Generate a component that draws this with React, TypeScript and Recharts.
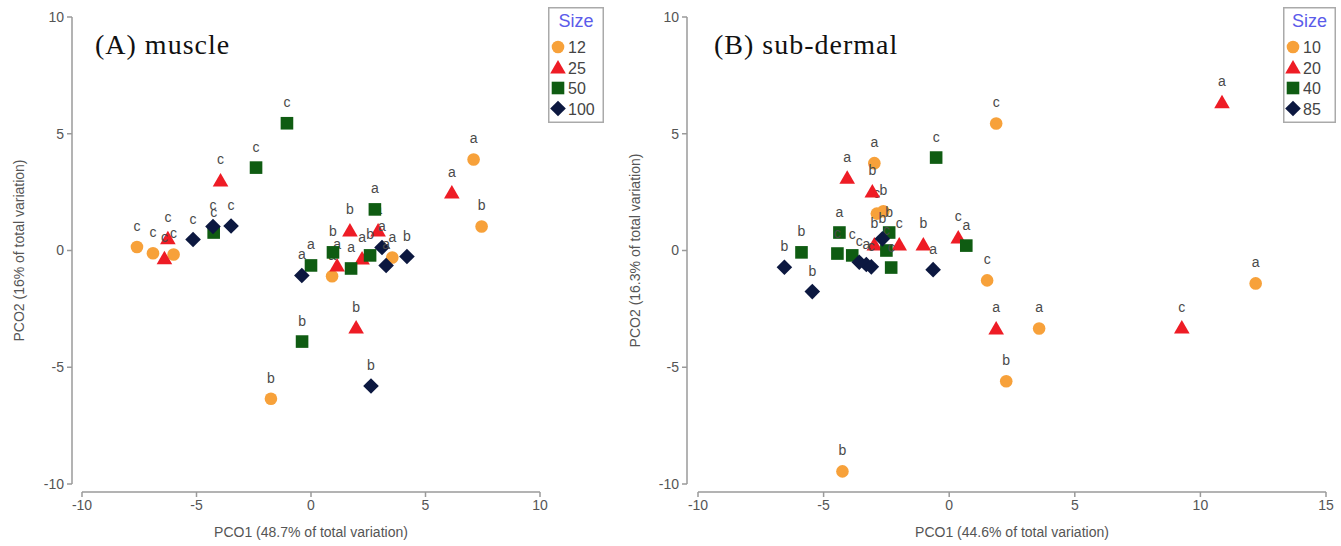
import React from "react";
import { ScatterChart, Scatter, XAxis, YAxis, Label } from "recharts";

type Pt = { x: number; y: number; g: string };

// (A) muscle
const muscle12: Pt[] = [
  { x: -7.6, y: 0.15, g: "c" }, { x: -6.9, y: -0.12, g: "c" }, { x: -6.0, y: -0.17, g: "c" },
  { x: -1.75, y: -6.35, g: "b" }, { x: 0.92, y: -1.1, g: "a" }, { x: 3.55, y: -0.3, g: "a" },
  { x: 7.1, y: 3.9, g: "a" }, { x: 7.45, y: 1.03, g: "b" },
];
const muscle25: Pt[] = [
  { x: -6.25, y: 0.52, g: "c" }, { x: -6.4, y: -0.33, g: "c" }, { x: -3.95, y: 3.0, g: "c" },
  { x: 1.7, y: 0.86, g: "b" }, { x: 2.93, y: 0.86, g: "a" }, { x: 1.14, y: -0.64, g: "a" },
  { x: 2.23, y: -0.34, g: "a" }, { x: 1.97, y: -3.3, g: "b" }, { x: 6.15, y: 2.48, g: "a" },
];
const muscle50: Pt[] = [
  { x: -4.25, y: 0.77, g: "c" }, { x: -2.4, y: 3.55, g: "c" }, { x: -1.05, y: 5.45, g: "c" },
  { x: 0, y: -0.64, g: "a" }, { x: 0.96, y: -0.08, g: "b" }, { x: 2.79, y: 1.76, g: "a" },
  { x: 1.75, y: -0.77, g: "a" }, { x: 2.58, y: -0.21, g: "b" }, { x: -0.39, y: -3.9, g: "b" },
];
const muscle100: Pt[] = [
  { x: -5.15, y: 0.47, g: "c" }, { x: -4.28, y: 1.03, g: "c" }, { x: -3.49, y: 1.05, g: "c" },
  { x: -0.4, y: -1.07, g: "a" }, { x: 3.1, y: 0.13, g: "a" }, { x: 3.28, y: -0.64, g: "a" },
  { x: 4.19, y: -0.26, g: "b" }, { x: 2.62, y: -5.8, g: "b" },
];

// (B) sub-dermal
const dermal10: Pt[] = [
  { x: 1.87, y: 5.44, g: "c" }, { x: -2.98, y: 3.74, g: "a" }, { x: -2.88, y: 1.58, g: "c" },
  { x: -2.62, y: 1.68, g: "b" }, { x: 1.51, y: -1.28, g: "c" }, { x: 3.58, y: -3.34, g: "a" },
  { x: 2.27, y: -5.6, g: "b" }, { x: 12.2, y: -1.41, g: "a" }, { x: -4.25, y: -9.46, g: "b" },
];
const dermal20: Pt[] = [
  { x: 10.86, y: 6.35, g: "a" }, { x: -4.06, y: 3.12, g: "a" }, { x: -3.06, y: 2.53, g: "b" },
  { x: -2.98, y: 0.26, g: "b" }, { x: -1.99, y: 0.26, g: "c" }, { x: -1.03, y: 0.26, g: "b" },
  { x: 0.36, y: 0.56, g: "c" }, { x: 1.87, y: -3.34, g: "a" }, { x: 9.26, y: -3.3, g: "c" },
];
const dermal40: Pt[] = [
  { x: -0.52, y: 3.98, g: "c" }, { x: -5.88, y: -0.08, g: "b" }, { x: -4.37, y: 0.77, g: "a" },
  { x: -4.45, y: -0.13, g: "c" }, { x: -3.86, y: -0.21, g: "c" }, { x: -2.39, y: 0.77, g: "b" },
  { x: -2.5, y: 0, g: "c" }, { x: -2.31, y: -0.73, g: "c" }, { x: 0.68, y: 0.21, g: "a" },
];
const dermal85: Pt[] = [
  { x: -6.56, y: -0.72, g: "b" }, { x: -5.45, y: -1.76, g: "b" }, { x: -3.58, y: -0.5, g: "c" },
  { x: -3.3, y: -0.6, g: "a" }, { x: -3.1, y: -0.7, g: "c" }, { x: -2.66, y: 0.5, g: "b" },
  { x: -0.64, y: -0.82, g: "a" },
];

const sizesA = ["12", "25", "50", "100"];
const sizesB = ["10", "20", "40", "85"];
const ticksXA = [-10, -5, 0, 5, 10];
const ticksXB = [-10, -5, 0, 5, 10, 15];
const ticksY = [-10, -5, 0, 5, 10];

const COLORS = ["#F7A13A", "#EE1C25", "#0F5C12", "#0C1840"];
const KINDS = ["circle", "triangle", "square", "diamond"];
const SANS = "'Liberation Sans', Arial, sans-serif";
const AXIS = "#9a9a9a";
const TEXT = "#555";

function Marker({ kind, cx, cy, color }: { kind: string; cx: number; cy: number; color: string }) {
  if (kind === "circle") return <circle cx={cx} cy={cy} r={6.3} fill={color} />;
  if (kind === "triangle")
    return <polygon points={`${cx},${cy - 7.5} ${cx - 7.8},${cy + 6} ${cx + 7.8},${cy + 6}`} fill={color} />;
  if (kind === "square") return <rect x={cx - 6.3} y={cy - 6.3} width={12.6} height={12.6} fill={color} />;
  return <polygon points={`${cx},${cy - 7.8} ${cx + 7.8},${cy} ${cx},${cy + 7.8} ${cx - 7.8},${cy}`} fill={color} />;
}

const makeShape = (i: number) => (props: any) => {
  const { cx, cy, payload } = props;
  return (
    <g>
      <Marker kind={KINDS[i]} cx={cx} cy={cy} color={COLORS[i]} />
      <text x={cx} y={cy - 16} textAnchor="middle" fontSize={14} fontFamily={SANS} fill="#4a4a4a">
        {payload.g}
      </text>
    </g>
  );
};

function SizeBox({ sizes, left, width }: { sizes: string[]; left: number; width: number }) {
  return (
    <svg style={{ position: "absolute", left, top: 7 }} width={width} height={116}>
      <rect x={0.75} y={0.75} width={width - 1.5} height={114.5} fill="white" stroke="#aaa" strokeWidth={1.5} />
      <text x={width / 2} y={20} textAnchor="middle" fontSize={18} fontFamily={SANS} fill="#5b5bea">
        Size
      </text>
      {sizes.map((s, i) => (
        <g key={s}>
          <Marker kind={KINDS[i]} cx={10} cy={40 + i * 20.5} color={COLORS[i]} />
          <text x={20} y={46 + i * 20.5} fontSize={16} fontFamily={SANS} fill="#444">
            {s}
          </text>
        </g>
      ))}
    </svg>
  );
}

type PanelProps = {
  left: number;
  width: number;
  yWidth: number;
  padLeft: number;
  xDomain: [number, number];
  xTicks: number[];
  series: Pt[][];
  sizes: string[];
  title: string;
  titleX: number;
  xTitle: string;
  yTitle: string;
  yTitleX: number;
  legendLeft: number;
  legendWidth: number;
  rightMargin: number;
};

function Panel(p: PanelProps) {
  const padBottom = 8;
  const yTitle = (props: any) => {
    const vb = props.viewBox;
    const cx = vb.x + p.yTitleX;
    const cy = vb.y + (vb.height - padBottom) / 2;
    return (
      <text x={cx} y={cy} transform={`rotate(-90 ${cx} ${cy})`} textAnchor="middle" dominantBaseline="middle"
        fontSize={14} fontFamily={SANS} fill={TEXT}>
        {p.yTitle}
      </text>
    );
  };
  const xTitle = (props: any) => {
    const vb = props.viewBox;
    const cx = vb.x + p.padLeft + (vb.width - p.padLeft) / 2;
    return (
      <text x={cx} y={vb.y + 45} textAnchor="middle" fontSize={14} fontFamily={SANS} fill={TEXT}>
        {p.xTitle}
      </text>
    );
  };
  return (
    <div style={{ position: "absolute", left: p.left, top: 0, width: p.width, height: 546 }}>
      <ScatterChart width={p.width} height={546} margin={{ top: 17, right: p.rightMargin, bottom: 0, left: 0 }}>
        <XAxis
          type="number"
          dataKey="x"
          domain={p.xDomain}
          ticks={p.xTicks}
          padding={{ left: p.padLeft, right: 0 }}
          height={54}
          tickSize={5}
          tickMargin={3}
          axisLine={{ stroke: AXIS, strokeWidth: 1.5, strokeDasharray: `0 ${p.padLeft} 2000` }}
          tickLine={{ stroke: AXIS, strokeWidth: 1.5 }}
          tick={{ fill: TEXT, fontSize: 14, fontFamily: SANS }}
        >
          <Label content={xTitle} />
        </XAxis>
        <YAxis
          type="number"
          dataKey="y"
          domain={[-10, 10]}
          ticks={ticksY}
          padding={{ top: 0, bottom: padBottom }}
          width={p.yWidth}
          tickSize={5}
          tickMargin={3}
          axisLine={{ stroke: AXIS, strokeWidth: 1.5, strokeDasharray: `467 200` }}
          tickLine={{ stroke: AXIS, strokeWidth: 1.5 }}
          tick={{ fill: TEXT, fontSize: 14, fontFamily: SANS }}
        >
          <Label content={yTitle} />
        </YAxis>
        {p.series.map((d, i) => (
          <Scatter key={p.sizes[i]} name={p.sizes[i]} data={d} shape={makeShape(i)} isAnimationActive={false} />
        ))}
      </ScatterChart>
      <div
        style={{
          position: "absolute",
          left: p.titleX,
          top: 29,
          fontFamily: "'Liberation Serif', 'Times New Roman', serif",
          fontSize: 28,
          letterSpacing: 1,
          lineHeight: "32px",
          color: "#111",
          whiteSpace: "nowrap",
        }}
      >
        {p.title}
      </div>
      <SizeBox sizes={p.sizes} left={p.legendLeft} width={p.legendWidth} />
    </div>
  );
}

export default function App() {
  return (
    <div style={{ position: "absolute", left: 0, top: 0, width: 1341, height: 546, background: "white" }}>
      <Panel
        left={0}
        width={610}
        yWidth={72}
        padLeft={10}
        xDomain={[-10, 10]}
        xTicks={ticksXA}
        series={[muscle12, muscle25, muscle50, muscle100]}
        sizes={sizesA}
        title="(A) muscle"
        titleX={95}
        xTitle="PCO1 (48.7% of total variation)"
        yTitle="PCO2 (16% of total variation)"
        yTitleX={20}
        legendLeft={548}
        legendWidth={56}
        rightMargin={70}
      />
      <Panel
        left={610}
        width={731}
        yWidth={77}
        padLeft={11}
        xDomain={[-10, 15]}
        xTicks={ticksXB}
        series={[dermal10, dermal20, dermal40, dermal85]}
        sizes={sizesB}
        title="(B) sub-dermal"
        titleX={104}
        xTitle="PCO1 (44.6% of total variation)"
        yTitle="PCO2 (16.3% of total variation)"
        yTitleX={26}
        legendLeft={673}
        legendWidth={53}
        rightMargin={15}
      />
    </div>
  );
}
